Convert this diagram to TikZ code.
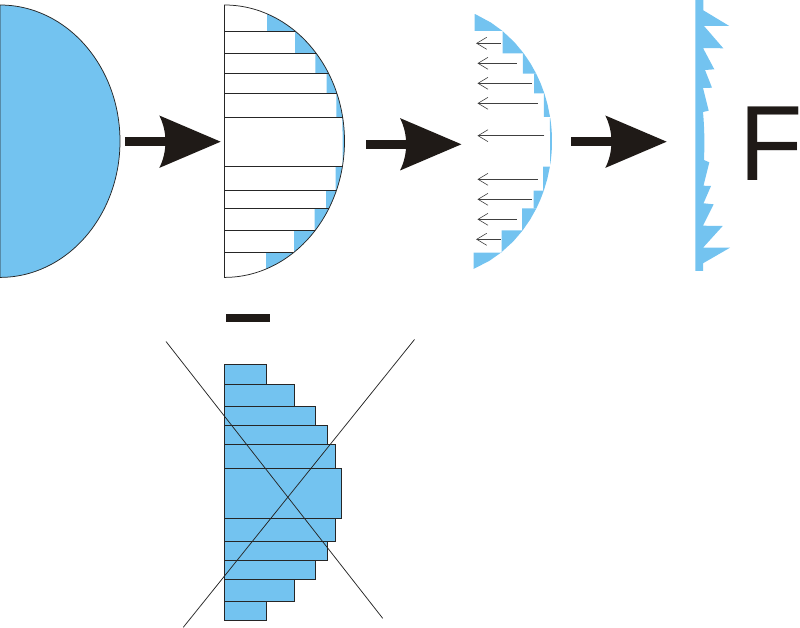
\documentclass[tikz,border=0pt]{standalone}
\usepackage{fontspec}
\usepackage{graphicx}
\setmainfont{Liberation Sans}
\definecolor{halfblue}{HTML}{73C3F0}
\definecolor{arrowblack}{HTML}{1F1A17}
\tikzset{
  declare function={cx(\t)=120*sqrt(max(0,1-((\t-141.2)/136.2)^2));},
  thinline/.style={draw=black!85,line width=0.75pt},
  bluefill/.style={fill=halfblue},
  bar/.style={fill=halfblue,draw=black!85,line width=0.9pt},
  forcearrow/.style={draw=black!75,line width=0.6pt},
  bigarrow/.style={fill=arrowblack}
}
\newcommand{\bluesteps}[1]{%
  \foreach \ya/\yb/\xl in {14.2/31/267,31/53.3/295,53.3/73.7/315.3,73.7/93.3/326.7,93.3/117/336.3,166.7/190.7/335.5,190.7/208.5/326,208.5/230.5/314.5,230.5/252.7/294,252.7/269/266}{
    \fill[bluefill] (\xl,\ya) -- plot[domain=\ya:\yb,samples=#1,variable=\t] ({224.5+cx(\t)},\t) -- (\xl,\yb) -- cycle;
  }
  \fill[bluefill] (342.4,118) -- plot[domain=118:164.5,samples=14,variable=\t] ({224.5+cx(\t)},\t) -- cycle;
}
\newcommand{\fatarrow}[2]{%
  \fill[bigarrow,shift={(#1,#2)}] (0,-4.5) -- (45,-4.5) -- (45,4.5) -- (0,4.5) -- cycle;
  \fill[bigarrow,shift={(#1,#2)}] (34.3,-26.2) -- (95.7,0) -- (34.3,26.2) .. controls (42.5,10) and (42.5,-10) .. cycle;
}
\begin{document}
\begin{tikzpicture}[x=1pt,y=-1pt]
\useasboundingbox (0,0) rectangle (800,628);
% solid half disc
\path[bluefill,thinline] (0,5) arc[start angle=90,end angle=-90,x radius=120pt,y radius=136.2pt] -- cycle;
% half disc cut in strips
\bluesteps{14}
\draw[thinline] (224.5,5) arc[start angle=90,end angle=-90,x radius=120pt,y radius=136.2pt] -- cycle;
\foreach \yy in {31,53.3,73.7,93.3,117,166.7,190.7,208.5,230.5,252.7}{
  \draw[thinline] (224.5,\yy) -- ({224.5+cx(\yy)},\yy);
}
% remaining blue pieces
\begin{scope}[shift={(207.5,0)}]
\bluesteps{3}
\end{scope}
% force arrows
\foreach \yy/\xa/\xb in {43.3/500.7/476.7,63.3/516.7/478,83.3/531.7/478,103.3/537.7/478,135.7/544.3/478,179.3/537.7/478,199.3/531.7/478,219.3/516.7/478,239.3/500.7/476.7}{
  \draw[forcearrow] (\xa,\yy) -- (\xb,\yy);
  \draw[forcearrow] (\xb+10,\yy-6) -- (\xb,\yy) -- (\xb+10,\yy+6);
}
% teeth
\fill[bluefill] (695.3,0) -- (703.3,0) -- (703.3,10.3) -- (729.3,26) -- (704,26) -- (723.3,48.3) -- (703,48) -- (714.3,69.3) -- (705,70) -- (712,87.7) -- (703,88) -- (708.7,110.7) -- (703,112)
  .. controls (704.6,130) and (704.6,145) .. (704,160) -- (709.3,162.3) -- (703.5,185.7) -- (711,186) -- (703.5,203.3) -- (713.7,204.3) -- (703,225.7) -- (722.7,226) -- (703,247.7) -- (730,247.7) -- (703,263.3) -- (703,271) -- (695.3,271) -- cycle;
% F
\node[anchor=base west,inner sep=0pt,text=arrowblack,font=\fontsize{107}{107}\selectfont] (force) at (739.5,181) {\makebox[50pt][l]{\scalebox{0.97}[1]{F}}};
% big arrows
\fatarrow{125}{141.7}
\fatarrow{365.7}{144.3}
\fatarrow{571}{141.7}
% minus
\fill[arrowblack] (226,314) rectangle (270,322);
% bars
\foreach \ya/\yb/\xr in {364.7/384.3/266.7,384.3/406/294.7,406/425.3/315.3,425.3/444.3/327.3,444.3/468.3/335.3,468.3/518/341.3,518/541/335.3,541/560/327.3,560/579.3/315.3,579.3/601.3/294.7,601.3/620.3/266.7}{
  \path[bar] (224.3,\ya) rectangle (\xr,\yb);
}
% crossing out
\draw[thinline] (166,341.5) -- (382.7,618.3);
\draw[thinline] (414.5,339.5) -- (183.3,627.3);
\end{tikzpicture}
\end{document}
